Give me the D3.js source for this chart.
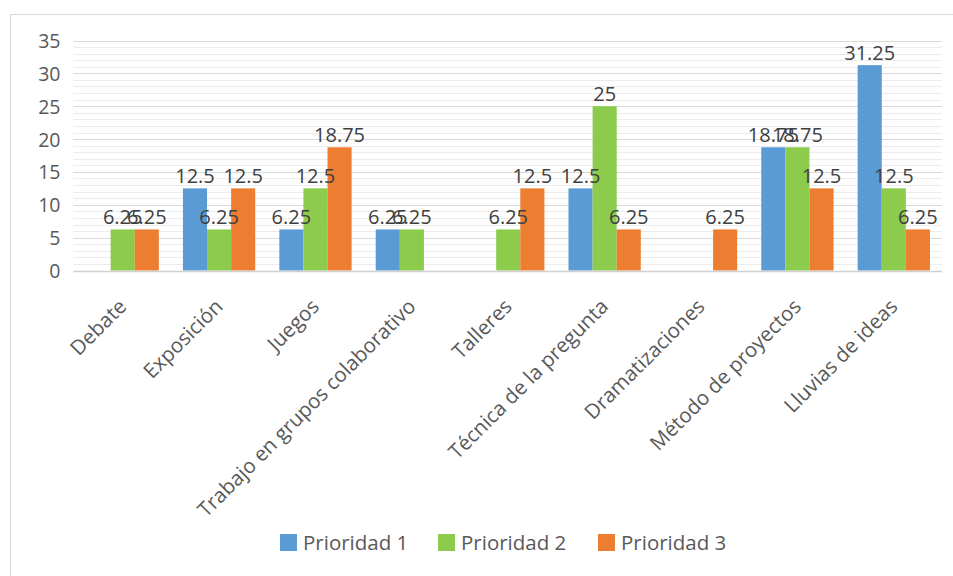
<!DOCTYPE html>
<html>
<head>
<meta charset="utf-8">
<script src="https://cdn.jsdelivr.net/npm/d3@7"></script>
<style>
  html, body { margin: 0; padding: 0; background: #ffffff; }
  svg { display: block; font-family: "Open Sans", "Noto Sans", sans-serif; }
</style>
</head>
<body>
<svg id="chart" width="953" height="576"></svg>
<script>
const categories = ["Debate", "Exposición", "Juegos", "Trabajo en grupos colaborativo", "Talleres", "Técnica de la pregunta", "Dramatizaciones", "Método de proyectos", "Lluvias de ideas"];
const seriesNames = ["Prioridad 1", "Prioridad 2", "Prioridad 3"];
const prioridad1 = [null, 12.5, 6.25, 6.25, null, 12.5, null, 18.75, 31.25];
const prioridad2 = [6.25, 6.25, 12.5, 6.25, 6.25, 25, null, 18.75, 12.5];
const prioridad3 = [6.25, 12.5, 18.75, null, 12.5, 6.25, 6.25, 12.5, 6.25];
const yTicks = [0, 5, 10, 15, 20, 25, 30, 35];
const colors = ["#5B9BD5", "#8CCB4B", "#ED7D31"];

const seriesValues = [prioridad1, prioridad2, prioridad3];

const svg = d3.select("#chart");
const margin = { left: 74.5, right: 11, top: 40.5, bottom: 305.5 };
const W = 953, H = 576;
const plotL = margin.left, plotR = W - margin.right, plotT = margin.top, plotB = H - margin.bottom;

// chart border
svg.append("rect").attr("x", 10.5).attr("y", 14.5).attr("width", 960).attr("height", 600)
  .attr("fill", "#ffffff").attr("stroke", "#d9d9d9").attr("stroke-width", 1);

const x0 = d3.scaleBand().domain(categories).range([plotL, plotR]).paddingInner(0.25).paddingOuter(0.125);
const x1 = d3.scaleBand().domain(seriesNames).range([0, x0.bandwidth()]);
const y = d3.scaleLinear().domain([0, 35]).range([plotB, plotT]);

// minor gridlines
const minor = d3.range(0, 36).filter(v => v % 5 !== 0);
svg.append("g").selectAll("line").data(minor).join("line")
  .attr("x1", plotL - 1).attr("x2", plotR)
  .attr("y1", d => Math.round(y(d)) + 0.5).attr("y2", d => Math.round(y(d)) + 0.5)
  .attr("stroke", "#ececec").attr("stroke-width", 1);

// major gridlines
svg.append("g").selectAll("line").data(yTicks.filter(v => v > 0)).join("line")
  .attr("x1", plotL - 1).attr("x2", plotR)
  .attr("y1", d => Math.round(y(d)) + 0.5).attr("y2", d => Math.round(y(d)) + 0.5)
  .attr("stroke", "#d9d9d9").attr("stroke-width", 1.2);

// y axis labels
const yAxis = d3.axisLeft(y).tickValues(yTicks).tickSize(0).tickPadding(0);
const gy = svg.append("g").attr("transform", `translate(${plotL - 14},0)`).call(yAxis);
gy.select(".domain").remove();
gy.selectAll("text").attr("fill", "#595959").style("font-size", "19.5px")
  .style("font-family", '"Open Sans", sans-serif').attr("dy", "0.36em");

// bars
const groups = svg.append("g").selectAll("g").data(categories).join("g")
  .attr("transform", d => `translate(${x0(d)},0)`);

groups.each(function(cat, i) {
  const g = d3.select(this);
  seriesNames.forEach((s, j) => {
    const v = seriesValues[j][i];
    if (v === null) return;
    g.append("rect")
      .attr("x", x1(s)).attr("width", x1.bandwidth())
      .attr("y", y(v)).attr("height", y(0) - y(v))
      .attr("fill", colors[j]);
  });
});

// axis line
svg.append("line").attr("x1", plotL - 1).attr("x2", plotR)
  .attr("y1", Math.round(y(0)) + 0.5).attr("y2", Math.round(y(0)) + 0.5)
  .attr("stroke", "#d0d0d0").attr("stroke-width", 1.5);

// data labels
groups.each(function(cat, i) {
  const g = d3.select(this);
  seriesNames.forEach((s, j) => {
    const v = seriesValues[j][i];
    if (v === null) return;
    g.append("text")
      .attr("x", x1(s) + x1.bandwidth() / 2)
      .attr("y", y(v) - 5)
      .attr("text-anchor", "middle")
      .attr("fill", "#404040")
      .style("font-size", "20px")
      .text(v);
  });
});

// x axis labels
const xAxis = d3.axisBottom(x0).tickSize(0).tickPadding(0);
const gx = svg.append("g").attr("transform", `translate(0,${plotB})`).call(xAxis);
gx.select(".domain").remove();
gx.selectAll("text")
  .attr("fill", "#595959").style("font-size", "20.5px")
  .style("font-family", '"Open Sans", sans-serif')
  .attr("text-anchor", "end")
  .attr("dy", 0).attr("y", 0)
  .attr("transform", "translate(5,37.3) rotate(-45)");

// legend
const legendItems = [
  { name: seriesNames[0], color: colors[0], x: 280 },
  { name: seriesNames[1], color: colors[1], x: 438 },
  { name: seriesNames[2], color: colors[2], x: 598 }
];
const lg = svg.append("g").selectAll("g").data(legendItems).join("g")
  .attr("transform", d => `translate(${d.x},534)`);
lg.append("rect").attr("width", 17).attr("height", 17).attr("fill", d => d.color);
lg.append("text").attr("x", 23).attr("y", 16).attr("fill", "#595959")
  .style("font-size", "20.5px").text(d => d.name);
</script>
</body>
</html>
